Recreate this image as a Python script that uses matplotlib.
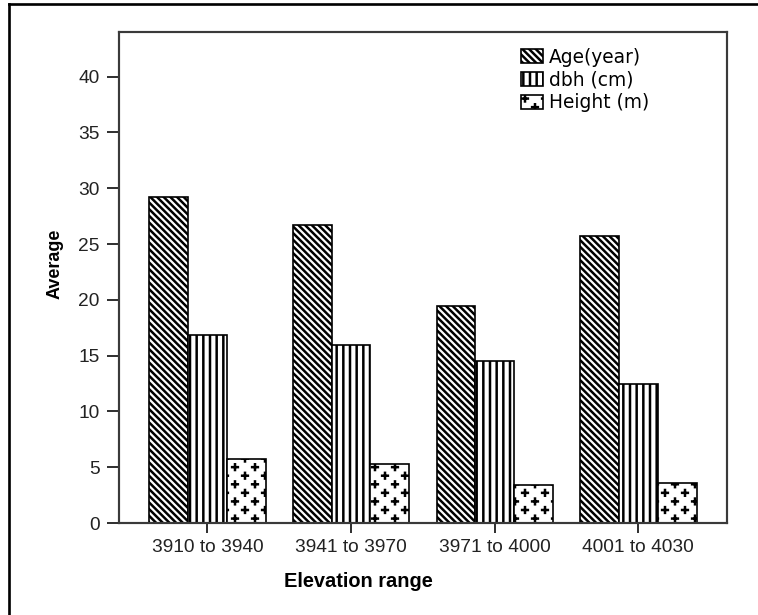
import numpy as np
import matplotlib
matplotlib.use("Agg")
import matplotlib.pyplot as plt
import matplotlib.hatch as mhatch
from matplotlib.path import Path
from matplotlib.lines import Line2D

# ---- data ----
categories = ["3910 to 3940", "3941 to 3970", "3971 to 4000", "4001 to 4030"]
series_names = ["Age(year)", "dbh (cm)", "Height (m)"]
age_year = [29.2, 26.7, 19.45, 25.7]
dbh_cm = [16.85, 15.95, 14.5, 12.45]
height_m = [5.7, 5.3, 3.45, 3.55]
y_ticks = [0, 5, 10, 15, 20, 25, 30, 35, 40]


# Staggered rows of small plus signs, used for the Height bars ('*' hatch).
class PlusHatch(mhatch.HatchPatternBase):
    n_rows = 14
    n_cols = 6
    half = 0.024

    def __init__(self, hatch, density):
        self.active = hatch.count('*') > 0
        self.num_vertices = (self.n_rows * self.n_cols * 4) if self.active else 0

    def set_vertices_and_codes(self, vertices, codes):
        verts = []
        cds = []
        h = self.half
        for r in range(self.n_rows):
            y = (r + 0.5) / self.n_rows
            shift = 0.25 if r % 2 == 0 else 0.75
            for c in range(self.n_cols):
                x = (c + shift) / self.n_cols
                verts += [[x - h, y], [x + h, y], [x, y - h], [x, y + h]]
                cds += [Path.MOVETO, Path.LINETO, Path.MOVETO, Path.LINETO]
        vertices[:] = np.array(verts)
        codes[:] = np.array(cds, dtype=Path.code_type)


mhatch._hatch_types = [t for t in mhatch._hatch_types if t is not mhatch.Stars] + [PlusHatch]

plt.rcParams["font.family"] = ["Liberation Sans", "DejaVu Sans"]
plt.rcParams["hatch.linewidth"] = 1.5

DPI = 120
fig = plt.figure(figsize=(758 / DPI, 615 / DPI), dpi=DPI)
ax = fig.add_axes([119 / 758, 1 - 523 / 615, (727 - 119) / 758, (523 - 32) / 615])

x = np.arange(len(categories))
w = 0.27
values = [age_year, dbh_cm, height_m]
hatches = ["\\" * 6, "|||", "**"]
for k, (vals, name, hp) in enumerate(zip(values, series_names, hatches)):
    ax.bar(x + (k - 1) * w, vals, width=w, facecolor="white", edgecolor="black",
           linewidth=1.0, hatch=hp, label=name)

ax.set_xlim(-0.615, 3.617)
ax.set_ylim(0, 44.0)
ax.set_xticks(x)
ax.set_xticklabels(categories, fontsize=11.5, color="#222222")
ax.set_yticks(y_ticks)
ax.set_yticklabels([str(v) for v in y_ticks], fontsize=11.5, color="#222222")
ax.tick_params(axis="y", length=7, width=1.2, pad=4.5, color="#333333")
ax.tick_params(axis="x", length=6, width=1.2, pad=3.5, color="#333333")
for s in ax.spines.values():
    s.set_linewidth(1.3)
    s.set_color("#3a3a3a")

ax.set_ylabel("Average", fontsize=10.8, fontweight="heavy",
              family=["Liberation Sans Narrow", "Liberation Sans", "DejaVu Sans"])
ax.yaxis.set_label_coords(-0.092, 0.527)
ax.set_xlabel("Elevation range", fontsize=12, fontweight="bold")
ax.xaxis.set_label_coords(0.393, -0.100)

leg = ax.legend(loc="upper left", bbox_to_anchor=(0.661, 0.968), frameon=False,
                prop={"family": ["DejaVu Sans"], "size": 11.2},
                handlelength=1.2, handleheight=0.75,
                handletextpad=0.3, labelspacing=0.2, borderpad=0, borderaxespad=0)

# outer frame (top and left edges)
fig.add_artist(Line2D([9 / 758, 1.0], [1 - 4 / 615, 1 - 4 / 615],
                      transform=fig.transFigure, color="black", linewidth=1.6))
fig.add_artist(Line2D([9 / 758, 9 / 758], [0.0, 1 - 4 / 615],
                      transform=fig.transFigure, color="black", linewidth=1.6))

fig.savefig("out.png", dpi=DPI)
